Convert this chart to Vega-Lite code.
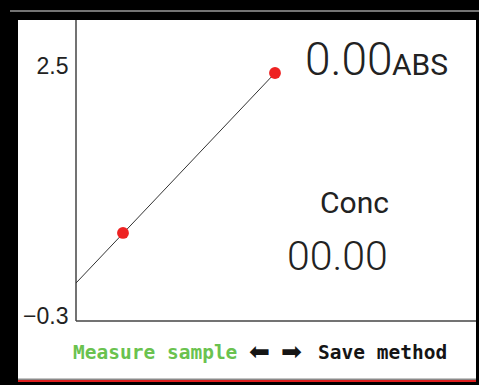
{
  "$schema": "https://vega.github.io/schema/vega-lite/v6.json",
  "width": 458,
  "height": 361,
  "autosize": {"type": "none"},
  "padding": {"left": 18, "top": 20, "right": 3, "bottom": 4},
  "background": "black",
  "config": {"view": {"fill": "white", "stroke": null}},
  "encoding": {
    "x": {"field": "x", "type": "quantitative", "scale": {"domain": [-1.16, 8], "nice": false, "zero": false}, "axis": null},
    "y": {"field": "y", "type": "quantitative", "scale": {"domain": [-1.017, 3.026], "nice": false, "zero": false},
      "axis": {"values": [2.5, -0.3], "offset": -58, "domain": false, "ticks": false, "grid": false, "labelPadding": 8, "title": null,
        "labelFont": "Liberation Sans", "labelFontSize": 23, "labelColor": "#222", "format": ".1f"}}
  },
  "layer": [
    {
      "data": {"values": [{"x": 0, "y": -0.345, "y2": 3.026}]},
      "mark": {"type": "rule", "color": "#444", "strokeWidth": 1.5},
      "encoding": {"y2": {"field": "y2"}}
    },
    {
      "data": {"values": [{"x": 0, "x2": 8, "y": -0.345}]},
      "mark": {"type": "rule", "color": "#444", "strokeWidth": 1.5},
      "encoding": {"x2": {"field": "x2"}}
    },
    {
      "data": {"values": [{"x": -1.32, "x2": 8.06, "y": 3.127}]},
      "mark": {"type": "rule", "color": "#9a9a9a", "strokeWidth": 1.5},
      "encoding": {"x2": {"field": "x2"}}
    },
    {
      "data": {"values": [{"x": -1.16, "x2": 8, "y": -0.998}]},
      "mark": {"type": "rule", "color": "#8a8a8a", "strokeWidth": 1.5},
      "encoding": {"x2": {"field": "x2"}}
    },
    {
      "data": {"values": [{"x": -1.16, "x2": 8, "y": -1.017}]},
      "mark": {"type": "rule", "color": "#e02020", "strokeWidth": 2},
      "encoding": {"x2": {"field": "x2"}}
    },
    {
      "data": {"values": [{"x": 0, "y": 0.08}, {"x": 3.98, "y": 2.432}]},
      "mark": {"type": "line", "color": "#333", "strokeWidth": 1}
    },
    {
      "data": {"values": [{"x": 0.94, "y": 0.641}, {"x": 3.98, "y": 2.432}]},
      "mark": {"type": "point", "filled": true, "color": "#ee2222", "opacity": 1, "size": 140}
    },
    {
      "data": {"values": [{"t": "0.00", "x": 4.58, "y": 2.41}]},
      "mark": {"type": "text", "align": "left", "baseline": "alphabetic", "font": "Roboto", "fontWeight": 300, "fontSize": 46, "color": "#222"},
      "encoding": {"text": {"field": "t"}}
    },
    {
      "data": {"values": [{"t": "00.00", "x": 4.22, "y": 0.226}]},
      "mark": {"type": "text", "align": "left", "baseline": "alphabetic", "font": "Roboto", "fontWeight": 300, "fontSize": 41, "color": "#222"},
      "encoding": {"text": {"field": "t"}}
    },
    {
      "data": {"values": [{"t": "ABS", "x": 6.32, "y": 2.41}, {"t": "Conc", "x": 4.88, "y": 0.864}]},
      "mark": {"type": "text", "align": "left", "baseline": "alphabetic", "font": "Roboto", "fontSize": 30, "color": "#222"},
      "encoding": {"text": {"field": "t"}}
    },
    {
      "data": {"values": [{"t": "⬅", "x": 3.46, "y": -0.78}, {"t": "➡", "x": 4.1, "y": -0.78}]},
      "mark": {"type": "text", "align": "left", "baseline": "alphabetic", "font": "DejaVu Sans", "fontSize": 25, "color": "#151515"},
      "encoding": {"text": {"field": "t"}}
    },
    {
      "data": {"values": [
        {"t": "Measure sample", "x": -0.06, "y": -0.771, "part": "green"},
        {"t": "Save method", "x": 4.84, "y": -0.771, "part": "black"}
      ]},
      "mark": {"type": "text", "align": "left", "baseline": "alphabetic", "font": "DejaVu Sans Mono", "fontWeight": "bold", "fontSize": 19.5},
      "encoding": {
        "text": {"field": "t"},
        "color": {"field": "part", "type": "nominal", "scale": {"domain": ["green", "black"], "range": ["#6ac24f", "#151515"]}, "legend": null}
      }
    }
  ]
}
